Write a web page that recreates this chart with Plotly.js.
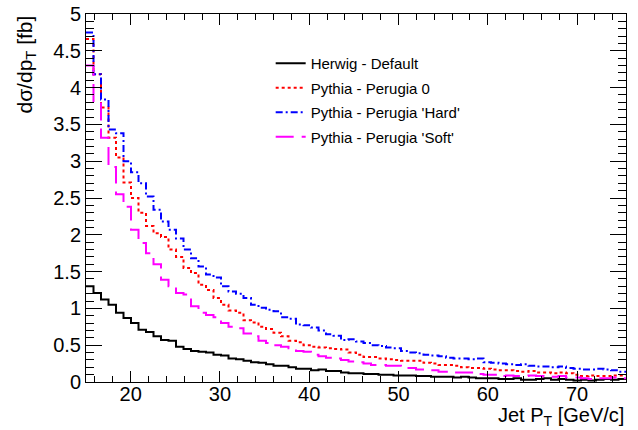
<!DOCTYPE html>
<html><head><meta charset="utf-8">
<script src="https://cdn.plot.ly/plotly-3.0.1.min.js"></script>
<style>html,body{margin:0;padding:0;background:#fff}#chart{width:638px;height:430px}</style>
</head><body><div id="chart"></div>
<script>
// Histogram binning (Jet pT, GeV/c)
const binStart = 15;
const binWidth = 0.84;
const seriesNames = ["Herwig - Default", "Pythia - Perugia 0", "Pythia - Perugia 'Hard'", "Pythia - Perugia 'Soft'"];
const herwigDefault = [1.30,1.21,1.12,1.05,0.94,0.87,0.80,0.71,0.68,0.62,
 0.57,0.56,0.48,0.45,0.42,0.41,0.40,0.37,0.36,0.32,
 0.31,0.29,0.27,0.26,0.24,0.22,0.22,0.20,0.18,0.18,
 0.16,0.17,0.15,0.15,0.13,0.12,0.12,0.11,0.11,0.10,
 0.10,0.09,0.09,0.09,0.08,0.08,0.07,0.07,0.07,0.06,
 0.07,0.06,0.05,0.05,0.05,0.04,0.04,0.05,0.03,0.03,
 0.04,0.05,0.03,0.04,0.03,0.02,0.03,0.02,0.03,0.04,
 0.03,0.04];
const perugia0 = [4.66,4.18,3.73,3.32,3.05,2.71,2.50,2.30,2.12,2.02,
 1.97,1.80,1.70,1.55,1.48,1.32,1.25,1.14,1.05,0.97,
 0.94,0.84,0.81,0.75,0.72,0.67,0.62,0.56,0.54,0.50,
 0.48,0.47,0.46,0.45,0.44,0.40,0.37,0.34,0.34,0.32,
 0.31,0.30,0.29,0.29,0.29,0.26,0.25,0.23,0.23,0.22,
 0.20,0.19,0.19,0.18,0.17,0.16,0.16,0.15,0.14,0.15,
 0.13,0.13,0.12,0.13,0.12,0.10,0.08,0.09,0.08,0.08,
 0.09,0.09];
const perugiaHard = [4.75,4.18,3.84,3.43,3.38,3.00,2.85,2.70,2.52,2.34,
 2.18,2.07,1.95,1.80,1.68,1.57,1.46,1.42,1.30,1.23,
 1.20,1.14,1.05,1.01,0.98,0.96,0.88,0.86,0.78,0.77,
 0.74,0.70,0.65,0.63,0.57,0.58,0.55,0.53,0.50,0.49,
 0.47,0.46,0.42,0.40,0.39,0.37,0.36,0.35,0.33,0.32,
 0.32,0.31,0.32,0.27,0.26,0.25,0.24,0.23,0.24,0.22,
 0.21,0.21,0.20,0.21,0.19,0.18,0.17,0.17,0.18,0.17,
 0.16,0.14];
const perugiaSoft = [4.30,3.80,3.32,2.92,2.55,2.38,2.07,1.89,1.75,1.60,
 1.39,1.30,1.21,1.19,1.03,0.94,0.91,0.88,0.80,0.75,
 0.73,0.66,0.62,0.56,0.53,0.50,0.48,0.46,0.42,0.41,
 0.37,0.35,0.33,0.32,0.30,0.28,0.27,0.25,0.23,0.23,
 0.22,0.22,0.19,0.19,0.17,0.17,0.16,0.14,0.14,0.13,
 0.13,0.13,0.11,0.10,0.10,0.08,0.09,0.08,0.08,0.09,
 0.08,0.07,0.07,0.08,0.06,0.06,0.05,0.04,0.05,0.05,
 0.06,0.05];

function stepXY(vals){
  const x = [], y = [];
  vals.forEach((v,i)=>{ x.push(binStart + i*binWidth); y.push(v); });
  x.push(binStart + vals.length*binWidth); y.push(vals[vals.length-1]);
  return {x, y};
}
const allSeries = [herwigDefault, perugia0, perugiaHard, perugiaSoft];
const styles = [
  {color:'#000000', dash:'solid'},
  {color:'#ff0000', dash:'3px,3px'},
  {color:'#0000ff', dash:'7px,3px,2px,3px'},
  {color:'#ff00ff', dash:'18px,8px'}
];
const traces = allSeries.map((vals,k)=>{
  const s = stepXY(vals);
  return {type:'scatter', mode:'lines', x:s.x, y:s.y, name:seriesNames[k], legendgroup:'g'+k,
    line:{shape:'hv', color:styles[k].color, dash:styles[k].dash, width:2}};
});
const font = {family:'"Liberation Sans", Arial, sans-serif', color:'#000'};
const layout = {
  width:638, height:430,
  margin:{l:86, r:12, t:14, b:48},
  paper_bgcolor:'#fff', plot_bgcolor:'#fff',
  font: Object.assign({size:20}, font),
  showlegend:true,
  legend:{x:0.342, xanchor:'left', y:0.91, yanchor:'top', bgcolor:'rgba(0,0,0,0)',
    font:Object.assign({size:15}, font), tracegroupgap:2, itemwidth:30},
  xaxis:{range:[15, 15+72*binWidth], showgrid:false, zeroline:false,
    showline:true, linecolor:'#000', linewidth:1, mirror:'allticks',
    ticks:'inside', ticklen:11, tickcolor:'#000', tick0:0, dtick:10,
    ticklabelstandoff:-6,
    minor:{ticks:'inside', ticklen:6, dtick:2, tickcolor:'#000'},
    tickfont:Object.assign({size:20}, font)},
  yaxis:{range:[0,5], showgrid:false, zeroline:false,
    showline:true, linecolor:'#000', linewidth:1, mirror:'allticks',
    ticks:'inside', ticklen:16, tickcolor:'#000', tick0:0, dtick:0.5,
    minor:{ticks:'inside', ticklen:8, dtick:0.1, tickcolor:'#000'},
    tickfont:Object.assign({size:20}, font)},
  annotations:[
    {text:'dσ/dp<sub>T</sub> [fb]', xref:'paper', yref:'paper', x:-0.112, y:1.0,
     xanchor:'center', yanchor:'top', textangle:-90, showarrow:false,
     font:Object.assign({size:21}, font)},
    {text:'Jet P<sub>T</sub> [GeV/c]', xref:'paper', yref:'paper', x:1.0, y:-0.094,
     xanchor:'right', yanchor:'middle', showarrow:false, font:Object.assign({size:20}, font)}
  ]
};
Plotly.newPlot('chart', traces, layout, {displayModeBar:false, staticPlot:true});
</script></body></html>
